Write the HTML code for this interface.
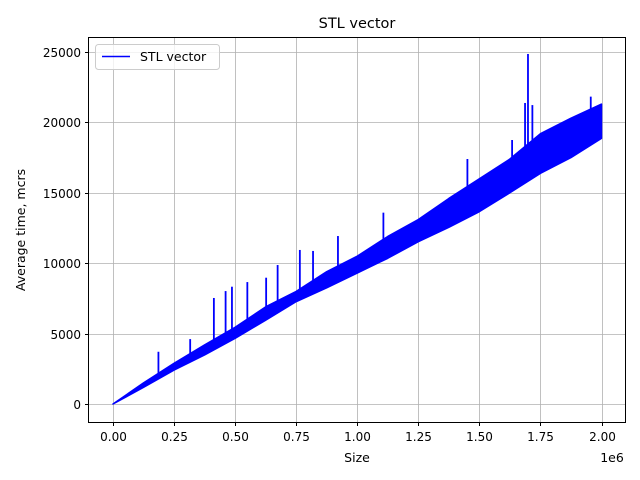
<!DOCTYPE html>
<html><head><meta charset="utf-8"><style>
body{margin:0;background:#fff;}
svg{display:block;font-family:"DejaVu Sans","Liberation Sans",sans-serif;}
</style></head><body>
<svg width="640" height="480">
<rect x="0" y="0" width="640" height="480" fill="#fff"/>
<g id="grid"></g>
<g id="marks"></g>
<rect x="88.5" y="37.5" width="537" height="385" fill="none" stroke="#000" stroke-width="1"/>
<g id="ticks" font-size="12" fill="#000"></g>
<text x="357" y="28" font-size="14.5" text-anchor="middle">STL vector</text>
<text x="357" y="462" font-size="12.5" text-anchor="middle">Size</text>
<text x="612" y="462" font-size="12.5" text-anchor="middle">1e6</text>
<text transform="translate(25,230) rotate(-90)" font-size="12.5" text-anchor="middle">Average time, mcrs</text>
<g>
<rect x="95.5" y="44.5" width="124" height="25" rx="3" fill="#fff" fill-opacity="0.8" stroke="#ccc"/>
<line x1="102" y1="56.5" x2="130" y2="56.5" stroke="#0000ff" stroke-width="1.5"/>
<text x="140" y="61" font-size="12.5">STL vector</text>
</g>
</svg>
<script>
const xs=[0,0.125,0.25,0.375,0.5,0.625,0.75,0.875,1.0,1.125,1.25,1.375,1.5,1.625,1.75,1.875,2.0];
const lows=[0,1180,2410,3480,4660,5950,7270,8250,9300,10350,11530,12550,13660,15000,16380,17500,18870];
const highs=[0,1500,2890,4200,5450,6900,8000,9400,10500,11900,13100,14600,16000,17400,19200,20300,21300];
const spikeX=[0.186,0.316,0.413,0.461,0.487,0.55,0.627,0.674,0.765,0.819,0.921,1.107,1.451,1.634,1.687,1.699,1.717,1.956];
const spikeY=[3710,4610,7530,8020,8330,8660,8970,9870,10940,10870,11930,13590,17400,18750,21380,24860,21230,21830];
const xTicks=[0,0.25,0.5,0.75,1.0,1.25,1.5,1.75,2.0];
const xTickLabels=["0.00","0.25","0.50","0.75","1.00","1.25","1.50","1.75","2.00"];
const yTicks=[0,5000,10000,15000,20000,25000];
const yTickLabels=["0","5000","10000","15000","20000","25000"];
const NS="http://www.w3.org/2000/svg";
function X(v){return 113+v*244.25;}
function Y(v){return 404-v*0.01408;}
const grid=document.getElementById('grid'),marks=document.getElementById('marks'),ticks=document.getElementById('ticks');
function mk(tag,attrs,parent){const e=document.createElementNS(NS,tag);for(const k in attrs)e.setAttribute(k,attrs[k]);parent.appendChild(e);return e;}
xTicks.forEach((v,i)=>{
 const x=Math.round(X(v))+0.5;
 const g=mk('line',{x1:x,x2:x,y1:37.5,y2:422.5,stroke:'#b0b0b0','stroke-width':0.8},grid);
 
 
 mk('line',{x1:x,x2:x,y1:422.5,y2:426,stroke:'#000'},ticks);
 const t=mk('text',{x:x,y:441,'text-anchor':'middle'},ticks);t.textContent=xTickLabels[i];
 
 
});
yTicks.forEach((v,i)=>{
 const y=Math.round(Y(v))+0.5;
 const g=mk('line',{x1:88.5,x2:625.5,y1:y,y2:y,stroke:'#b0b0b0','stroke-width':0.8},grid);
 
 
 mk('line',{x1:85,x2:88.5,y1:y,y2:y,stroke:'#000'},ticks);
 const t=mk('text',{x:81,y:y+4.5,'text-anchor':'end'},ticks);t.textContent=yTickLabels[i];
 
 
});
let pts=[];
xs.forEach((v,i)=>pts.push(X(v)+','+Y(highs[i])));
for(let i=xs.length-1;i>=0;i--)pts.push(X(xs[i])+','+Y(lows[i]));
const band=mk('polygon',{points:pts.join(' '),fill:'#0000ff',stroke:'#0000ff','stroke-width':1.5,'stroke-linejoin':'round'},marks);


spikeX.forEach((v,i)=>{
 let j=0;while(j<xs.length-2&&xs[j+1]<v)j++;
 const f=(v-xs[j])/(xs[j+1]-xs[j]);
 const base=highs[j]+f*(highs[j+1]-highs[j]);
 const s=mk('line',{x1:X(v),x2:X(v),y1:Y(base),y2:Y(spikeY[i]),stroke:'#0000ff','stroke-width':1.8},marks);
 
 
});
</script>
</body></html>
